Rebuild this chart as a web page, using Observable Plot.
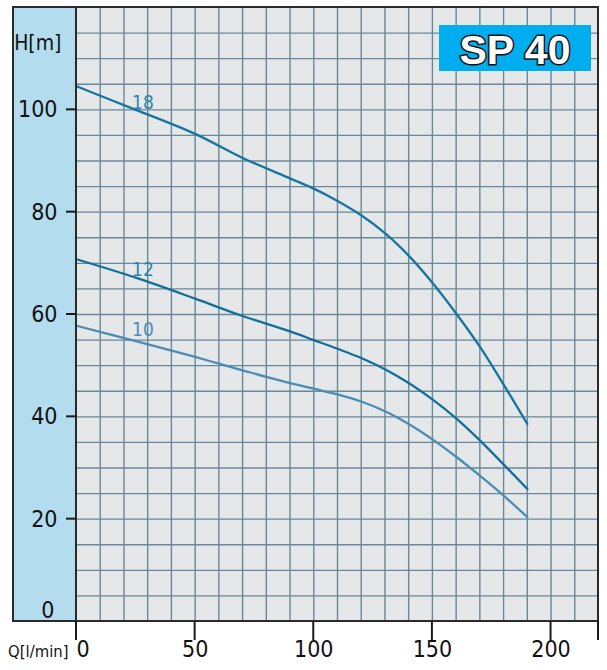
<!DOCTYPE html>
<html><head><meta charset="utf-8">
<script src="https://cdn.jsdelivr.net/npm/d3@7"></script>
<script src="https://cdn.jsdelivr.net/npm/@observablehq/plot@0.6"></script>
<style>html,body{margin:0;padding:0;background:#fff}svg{display:block}</style>
</head><body><div id="chart"></div>
<script>
// Data (Q in l/min, H in m)
const q18 = [0, 25, 50, 70, 90, 100, 110, 120, 130, 140, 150, 160, 170, 180, 190];
const h18 = [104.6, 100, 95.3, 90.6, 86.6, 84.6, 82.2, 79.4, 75.9, 71.5, 66.2, 60.2, 53.7, 46.3, 38.6];
const q12 = [0, 25, 50, 70, 90, 100, 110, 120, 130, 140, 150, 160, 170, 180, 190];
const h12 = [70.8, 67.2, 63.1, 59.7, 56.7, 55, 53.3, 51.5, 49.3, 46.6, 43.4, 39.7, 35.4, 30.7, 25.9];
const q10 = [0, 25, 50, 60, 70, 80, 90, 100, 110, 120, 130, 140, 150, 160, 170, 180, 190];
const h10 = [57.8, 54.8, 51.7, 50.4, 49.1, 47.8, 46.6, 45.5, 44.4, 43.0, 41.1, 38.6, 35.6, 32.2, 28.5, 24.6, 20.4];
const curveNames = ["18", "12", "10"];
const curveColors = ["#1476a0", "#10709a", "#4a8cb4"];
const labelColors = ["#2a86b0", "#2a86b0", "#4a90b8"];
const labelQ = [28, 28, 28];
const labelH = [101.3, 68.7, 56.9];
const xTicks = [0, 50, 100, 150, 200, 220];
const xTickLabels = [50, 100, 150, 200];
const yTicks = [20, 40, 60, 80, 100];
const yTickLabels = [20, 40, 60, 80, 100];
const xGrid = d3.range(10, 220, 10);
const yGrid = d3.range(5, 120, 5);
const title = "SP 40";

(function () {
const series = [[q18, h18], [q12, h12], [q10, h10]];
const rows = series.flatMap(([qs, hs], i) => qs.map((q, j) => ({pump: curveNames[i], q, h: hs[j], color: curveColors[i]})));
const labels = curveNames.map((n, i) => ({n, q: labelQ[i], h: labelH[i], color: labelColors[i]}));

const font = "'Liberation Sans Narrow','DejaVu Sans Condensed','Arial Narrow','Liberation Sans',sans-serif";
const gridColor = "#67899a";

const chart = Plot.plot({
  width: 607, height: 670,
  marginTop: 7, marginBottom: 49, marginLeft: 76, marginRight: 9,
  x: {domain: [0, 220], axis: null},
  y: {domain: [0, 120], axis: null},
  style: {fontFamily: font, background: "transparent", overflow: "visible"},
  marks: [
    Plot.frame({fill: "#e5e7e9", stroke: null}),
    Plot.gridX(xGrid, {stroke: gridColor, strokeOpacity: 1, strokeWidth: 1.4}),
    Plot.gridY(yGrid, {stroke: gridColor, strokeOpacity: 1, strokeWidth: 1.4}),
    Plot.line(rows, {x: "q", y: "h", z: "pump", stroke: "color", strokeWidth: 2.3, curve: "catmull-rom"}),
    Plot.text(labels, {x: "q", y: "h", text: "n", fill: "color", fontSize: 19}),
    Plot.text(yTickLabels, {y: d => d, frameAnchor: "left", text: d => String(d), textAnchor: "end", dx: -19, fontSize: 23, fill: "#111"}),
    Plot.text([0], {y: d => d, frameAnchor: "left", text: d => String(d), textAnchor: "end", dx: -22, dy: -11, fontSize: 23, fill: "#111"}),
    Plot.text(xTickLabels, {x: d => d, frameAnchor: "bottom", text: d => String(d), dy: 35, fontSize: 23, fill: "#111"}),
    Plot.text([0], {x: d => d, frameAnchor: "bottom", text: d => String(d), textAnchor: "start", dx: 0, dy: 35, fontSize: 23, fill: "#111"}),
    Plot.text(["Q[l/min]"], {frameAnchor: "bottom-left", text: d => d, textAnchor: "end", dx: -8, dy: 35, fontSize: 16.5, fill: "#111"}),
    Plot.text(["H[m]"], {frameAnchor: "top-left", text: d => d, textAnchor: "end", dx: -15, dy: 28, fontSize: 21, fill: "#111"})
  ]
});

const svg = d3.select(chart);
const sx = chart.scale("x"), sy = chart.scale("y");
const pL = sx.apply(0), pR = sx.apply(220), pT = sy.apply(120), pB = sy.apply(0);
// left blue band (outside plot area)
svg.insert("rect", ":first-child")
  .attr("x", 13).attr("y", pT).attr("width", pL - 13).attr("height", pB - pT)
  .attr("fill", "#b3dcef");
// outer border
svg.append("rect").attr("x", 13).attr("y", pT).attr("width", pR - 13).attr("height", pB - pT)
  .attr("fill", "none").attr("stroke", "#2a2a2a").attr("stroke-width", 2);
svg.append("line").attr("x1", pL).attr("x2", pL).attr("y1", pT).attr("y2", pB)
  .attr("stroke", "#2a2a2a").attr("stroke-width", 2);
// axis ticks, positioned with the plot's scales
const tickG = svg.append("g").attr("stroke", "#1a1a1a").attr("stroke-width", 2);
yTicks.forEach(v => tickG.append("line")
  .attr("x1", pL - 10).attr("x2", pL).attr("y1", sy.apply(v)).attr("y2", sy.apply(v)));
xTicks.forEach(v => tickG.append("line")
  .attr("x1", sx.apply(v)).attr("x2", sx.apply(v)).attr("y1", pB).attr("y2", pB + 19));
// SP 40 badge
svg.append("rect").attr("x", 439).attr("y", 25).attr("width", 152).attr("height", 46).attr("fill", "#00aeef");
svg.append("text").attr("x", 515).attr("y", 64).attr("text-anchor", "middle")
  .attr("font-family", "'Liberation Sans',Arial,sans-serif").attr("font-weight", "bold").attr("font-size", 41)
  .attr("fill", "#fff").attr("stroke", "#111").attr("stroke-width", 3).attr("paint-order", "stroke")
  .text(title);

document.getElementById("chart").appendChild(chart);
})();
</script>
</body></html>
